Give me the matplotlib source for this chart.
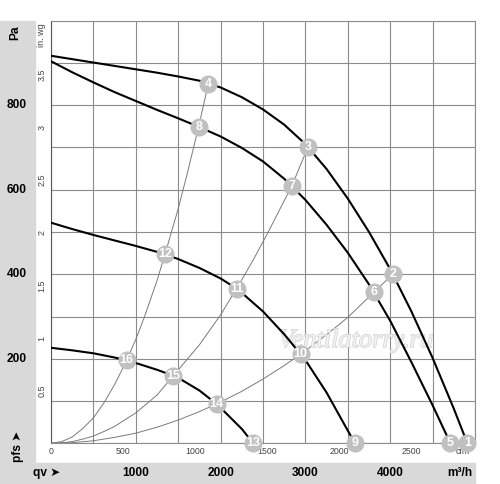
import matplotlib
matplotlib.use('Agg')
import matplotlib.pyplot as plt
from matplotlib.patches import Rectangle
from matplotlib.transforms import blended_transform_factory
import matplotlib.patheffects as pe

plt.rcParams['font.family'] = ['Liberation Sans', 'DejaVu Sans']

# fan curves, airflow in m3/h and pressure in Pa
fan_a_q = [0, 250, 500, 750, 1000, 1250, 1500, 1750, 2000, 2250, 2500, 2750, 3000, 3250,
           3500, 3750, 4000, 4250, 4500, 4750, 4910]
fan_a_p = [917, 909, 901, 893, 885, 877, 868, 858, 842, 819, 790, 754, 708, 649,
           579, 500, 412, 312, 202, 82, 0]
fan_b_q = [0, 250, 500, 750, 1000, 1250, 1500, 1741, 2000, 2250, 2500, 2750, 3000, 3250,
           3500, 3750, 4000, 4250, 4500, 4710]
fan_b_p = [904, 878, 854, 831, 810, 789, 769, 749, 726, 699, 667, 626, 576, 517,
           451, 376, 290, 192, 90, 0]
fan_c_q = [0, 250, 500, 750, 1000, 1250, 1344, 1500, 1750, 2000, 2189, 2250, 2500, 2750,
           2944, 3000, 3250, 3500, 3585]
fan_c_p = [522, 507, 493, 480, 467, 453, 447, 436, 415, 390, 366, 356, 312, 258,
           211, 197, 120, 30, 0]
fan_d_q = [0, 250, 500, 750, 892, 1000, 1250, 1442, 1500, 1750, 1953, 2000, 2250, 2385]
fan_d_p = [226, 220, 213, 203, 196, 190, 174, 160, 155, 125, 93, 84, 34, 0]

# system curves
sys_1_q = [0, 125, 250, 375, 500, 625, 750, 892, 1000, 1100, 1250, 1344, 1500, 1600, 1741, 1855]
sys_1_p = [0, 4, 15, 35, 60, 96, 139, 196, 246, 298, 385, 447, 555, 633, 749, 851]
sys_2_q = [0, 125, 250, 375, 500, 625, 750, 1000, 1250, 1442, 1750, 2000, 2189, 2385, 2562,
           2750, 2838, 3030]
sys_2_p = [0, 1, 4, 10, 17, 28, 40, 72, 114, 160, 233, 304, 366, 434, 500,
           574, 608, 701]
sys_3_q = [0, 250, 500, 750, 1000, 1250, 1500, 1750, 1953, 2250, 2500, 2750, 2944, 3250,
           3500, 3805, 4030]
sys_3_p = [0, 1.5, 6, 14, 24, 38, 55, 75, 93, 123, 152, 184, 211, 257, 298, 357, 400]

# operating points
point_no = [1, 2, 3, 4, 5, 6, 7, 8, 9, 10, 11, 12, 13, 14, 15, 16]
point_q = [4910, 4030, 3030, 1855, 4710, 3805, 2838, 1741, 3585, 2944, 2189, 1344, 2385, 1953, 1442, 892]
point_p = [0, 400, 701, 851, 0, 357, 608, 749, 0, 211, 366, 447, 0, 93, 160, 196]

pa_labels = [200, 400, 600, 800]
m3h_labels = [1000, 2000, 3000, 4000]
cfm_labels = [0, 500, 1000, 1500, 2000, 2500]
inwg_labels = [0.5, 1, 1.5, 2, 2.5, 3, 3.5]

W, H = 500, 484
fig = plt.figure(figsize=(5, 4.84), dpi=100, facecolor='white')
ax = fig.add_axes([51 / W, 1 - 443.3 / H, 424 / W, 422.6 / H])

grey = '#d9d9d9'
fig.patches.append(Rectangle((0, 0), 35 / W, 1 - 20.7 / H, transform=fig.transFigure,
                             color=grey, zorder=-1))
fig.patches.append(Rectangle((0, 0), 475 / W, 1 - 462.7 / H, transform=fig.transFigure,
                             color=grey, zorder=-1))

ax.set_xlim(0, 5000)
ax.set_ylim(0, 1000)
ax.set_xticks(range(0, 5001, 500))
ax.set_yticks(range(0, 1001, 100))
ax.tick_params(length=0, labelbottom=False, labelleft=False)
ax.grid(True, color='#8c8c8c', lw=0.8)
for s in ax.spines.values():
    s.set_color('#8c8c8c')
    s.set_linewidth(0.8)
ax.spines['left'].set_color('#555555')

for q, p in [(sys_1_q, sys_1_p), (sys_2_q, sys_2_p), (sys_3_q, sys_3_p)]:
    ax.plot(q, p, color='#7a7a7a', lw=0.7, zorder=3)
for q, p in [(fan_a_q, fan_a_p), (fan_b_q, fan_b_p), (fan_c_q, fan_c_p), (fan_d_q, fan_d_p)]:
    ax.plot(q, p, color='black', lw=1.5, zorder=4, solid_joinstyle='round')

ax.plot(point_q, point_p, 'o', ms=13, mfc='#c0c0c0', mec='none', clip_on=False, zorder=5)
for n, q, p in zip(point_no, point_q, point_p):
    ax.text(q, p, str(n), color='white', fontsize=9, fontweight='bold',
            ha='center', va='center', zorder=6)

ax.text(3596, 242, 'Ventilatorry.ru', family='Liberation Serif', style='italic',
        fontsize=19, color='#f1f1f1', ha='center', va='center', zorder=3.5,
        path_effects=[pe.withStroke(linewidth=1.0, foreground='#d2d2d2')])

fy = blended_transform_factory(fig.transFigure, ax.transData)
fx = blended_transform_factory(ax.transData, fig.transFigure)

for v in pa_labels:
    ax.text(17 / W, v, str(v), transform=fy, ha='center', va='center',
            fontsize=8.6, fontweight='bold')
fig.text(15 / W, 1 - 33 / H, 'Pa', rotation=90, ha='center', va='center',
         fontsize=8.6, fontweight='bold')
fig.text(18 / W, 1 - 446 / H, 'pfs ➤', rotation=90, ha='center', va='center',
         fontsize=8.6, fontweight='bold')
fig.text(47 / W, 1 - 473 / H, 'qv ➤', ha='center', va='center',
         fontsize=8.6, fontweight='bold')

for v in m3h_labels:
    ax.text(v, 1 - 473 / H, str(v), transform=fx, ha='center', va='center',
            fontsize=8.6, fontweight='bold')
fig.text(460 / W, 1 - 473 / H, 'm³/h', ha='center', va='center',
         fontsize=8.6, fontweight='bold')

for v in cfm_labels:
    ax.text(v * 1.699, 1 - 452 / H, str(v), transform=fx, ha='center', va='center',
            fontsize=6.3, color='#444444', zorder=1)
ax.text(4857, 1 - 452 / H, 'cfm', transform=fx, ha='center', va='center',
        fontsize=6.3, color='#444444', zorder=1)

for v in inwg_labels:
    ax.text(42 / W, v * 249.09, str(v), transform=fy, rotation=90, ha='center',
            va='center', fontsize=6.5, color='#444444')
fig.text(42 / W, 1 - 35 / H, 'in. wg', rotation=90, ha='center', va='center',
         fontsize=6.5, color='#444444')

fig.savefig('out.png', dpi=100)
